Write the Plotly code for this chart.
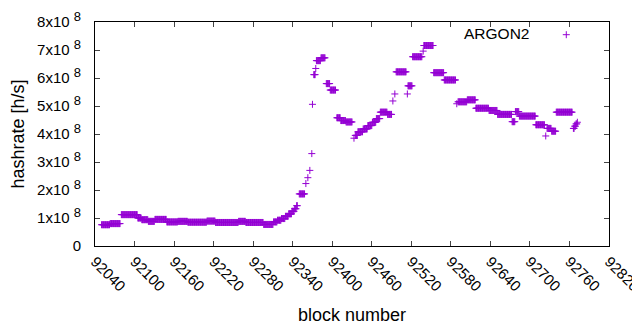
import plotly.graph_objects as go

# Runs of blocks: (first block, last block, hashrate in 1e8 h/s)
seg_start = [92050, 92063, 92080, 92105, 92111, 92121, 92131, 92149, 92166, 92181,
             92210, 92223, 92258, 92269, 92296, 92311, 92317, 92323, 92329, 92334,
             92339, 92343, 92346, 92350, 92360, 92363, 92366, 92369, 92370, 92372,
             92375, 92376, 92383, 92391, 92397, 92407, 92413, 92421, 92433, 92435,
             92439, 92447, 92454, 92461, 92467, 92473, 92484, 92492, 92495, 92497,
             92514, 92515, 92522, 92538, 92539, 92554, 92570, 92589, 92591, 92605,
             92618, 92638, 92651, 92673, 92678, 92684, 92709, 92724, 92726, 92733,
             92740, 92766, 92768, 92770, 92772]
seg_end = [92062, 92078, 92104, 92110, 92120, 92130, 92148, 92165, 92180, 92209,
           92222, 92257, 92268, 92295, 92310, 92316, 92322, 92328, 92333, 92338,
           92342, 92345, 92347, 92358, 92360, 92363, 92366, 92369, 92370, 92374,
           92375, 92382, 92389, 92396, 92405, 92412, 92420, 92430, 92433, 92438,
           92446, 92453, 92460, 92466, 92472, 92483, 92490, 92492, 92495, 92512,
           92514, 92521, 92536, 92538, 92553, 92569, 92587, 92589, 92604, 92617,
           92637, 92650, 92672, 92677, 92683, 92708, 92722, 92724, 92732, 92739,
           92764, 92767, 92769, 92771, 92772]
seg_value = [0.76, 0.80, 1.12, 1.00, 0.94, 0.88, 0.95, 0.86, 0.88, 0.85,
             0.89, 0.84, 0.88, 0.84, 0.77, 0.86, 0.92, 0.98, 1.06, 1.15,
             1.24, 1.33, 1.44, 1.86, 2.23, 2.44, 2.70, 3.30, 5.06, 6.12,
             6.34, 6.62, 6.72, 5.80, 5.57, 4.58, 4.48, 4.43, 3.85, 3.95,
             4.08, 4.18, 4.30, 4.42, 4.55, 4.78, 4.70, 5.18, 5.43, 6.22,
             5.43, 5.72, 6.76, 6.96, 7.16, 6.19, 5.93, 5.08, 5.15, 5.22,
             4.92, 4.84, 4.70, 4.44, 4.80, 4.64, 4.33, 3.93, 4.20, 4.10,
             4.78, 4.20, 4.28, 4.36, 4.42]

x_ticks = [92040, 92100, 92160, 92220, 92280, 92340, 92400, 92460,
           92520, 92580, 92640, 92700, 92760, 92820]
y_ticks = [0, 1e8, 2e8, 3e8, 4e8, 5e8, 6e8, 7e8, 8e8]
y_tick_labels = ["0"] + [
    f"{i}x10 <sup><span style='font-size:13px'>8</span></sup>" for i in range(1, 9)
]

blocks, rates = [], []
for s, e, v in zip(seg_start, seg_end, seg_value):
    for b in range(s, e + 1):
        blocks.append(b)
        rates.append(v * 1e8)

PURPLE = "#9400D3"
FONT = "Liberation Sans"

fig = go.Figure()
fig.add_trace(go.Scatter(
    x=blocks, y=rates, mode="markers", name=" ",
    marker=dict(symbol="cross-thin", size=5, color=PURPLE,
                line=dict(width=1, color=PURPLE)),
))

# The page body adds an 8 px offset, so the figure is sized 632x322.
fig.update_layout(
    width=632, height=322,
    margin=dict(l=87, r=31, t=11, b=84),
    paper_bgcolor="white", plot_bgcolor="white",
    font=dict(family=FONT, size=15, color="black"),
    showlegend=True,
    legend=dict(x=0.878, xanchor="left", y=1.013, yanchor="top",
                bgcolor="rgba(0,0,0,0)", font=dict(size=14)),
    annotations=[dict(text="ARGON2", xref="paper", yref="paper",
                      x=0.848, y=0.947, xanchor="right", yanchor="middle",
                      showarrow=False, font=dict(size=15.5, family=FONT))],
)
fig.update_xaxes(
    range=[92040, 92820], tickvals=x_ticks, ticktext=[str(t) for t in x_ticks],
    tickangle=45, ticks="inside", ticklen=5, mirror="allticks", automargin=False,
    ticklabeloverflow="allow",
    showline=True, linecolor="black", linewidth=1, showgrid=False, zeroline=False,
    title=dict(text="block number", standoff=14), tickfont=dict(size=15),
)
fig.update_yaxes(
    range=[0, 8e8], tickvals=y_ticks, ticktext=y_tick_labels,
    ticks="inside", ticklen=5, mirror="allticks", ticklabelstandoff=10, automargin=False,
    showline=True, linecolor="black", linewidth=1, showgrid=False, zeroline=False,
    title=dict(text="hashrate [h/s]", standoff=9), tickfont=dict(size=15),
)

fig.write_html("out.html")
